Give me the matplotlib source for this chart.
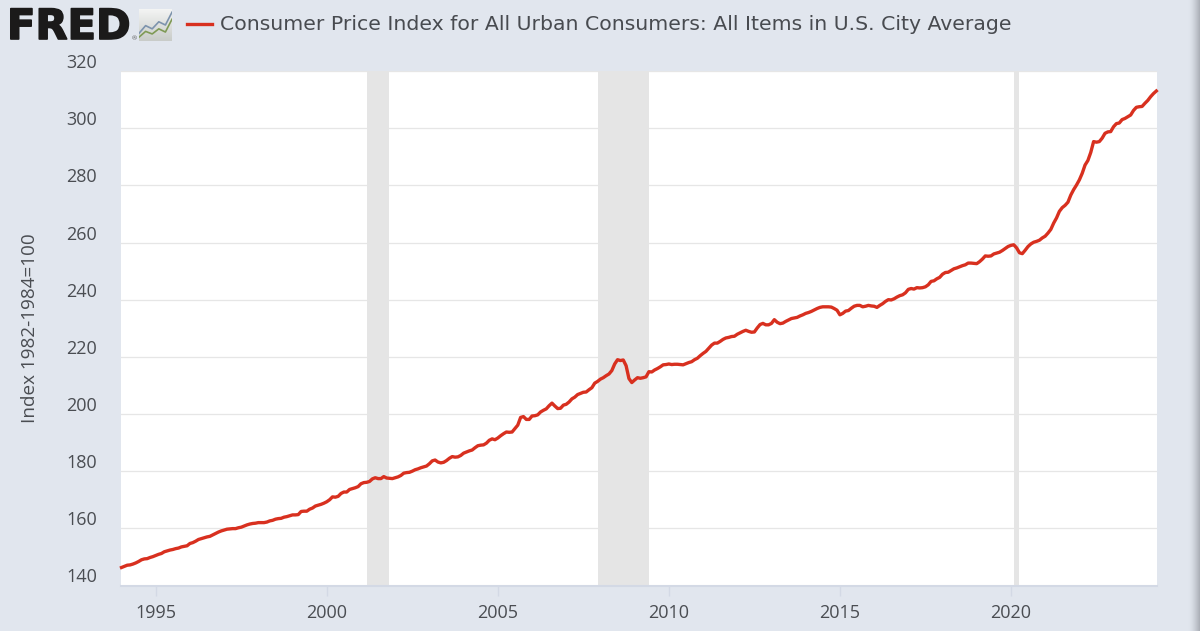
import numpy as np
import matplotlib
matplotlib.use("Agg")
import matplotlib.pyplot as plt
import matplotlib.patheffects as pe
from matplotlib.transforms import ScaledTranslation

TITLE = "Consumer Price Index for All Urban Consumers: All Items in U.S. City Average"
YLABEL = "Index 1982-1984=100"
START_YEAR = 1994
cpi_1994 = [146.3,146.7,147.1,147.2,147.5,147.9,148.4,149.0,149.3,149.4,149.8,150.1]
cpi_1995 = [150.5,150.9,151.2,151.8,152.1,152.4,152.6,152.9,153.1,153.5,153.7,153.9]
cpi_1996 = [154.7,155.0,155.5,156.1,156.4,156.7,157.0,157.2,157.7,158.2,158.7,159.1]
cpi_1997 = [159.4,159.7,159.8,159.9,159.9,160.2,160.4,160.8,161.2,161.5,161.7,161.8]
cpi_1998 = [162.0,162.0,162.0,162.2,162.6,162.8,163.2,163.4,163.5,163.9,164.1,164.4]
cpi_1999 = [164.7,164.7,164.8,165.9,166.0,166.0,166.7,167.1,167.8,168.1,168.4,168.8]
cpi_2000 = [169.3,170.0,171.0,170.9,171.2,172.2,172.7,172.7,173.6,173.9,174.2,174.6]
cpi_2001 = [175.6,176.0,176.1,176.4,177.3,177.7,177.4,177.4,178.1,177.6,177.5,177.4]
cpi_2002 = [177.7,178.0,178.5,179.3,179.5,179.6,180.0,180.5,180.8,181.2,181.5,181.8]
cpi_2003 = [182.6,183.6,183.9,183.2,182.9,183.1,183.7,184.5,185.1,184.9,185.0,185.5]
cpi_2004 = [186.3,186.7,187.1,187.4,188.2,188.9,189.1,189.2,189.8,190.8,191.3,191.0]
cpi_2005 = [191.6,192.4,193.1,193.7,193.6,193.7,194.9,196.1,198.8,199.1,198.1,198.1]
cpi_2006 = [199.3,199.4,199.7,200.7,201.3,201.8,202.9,203.8,202.8,201.9,202.0,203.1]
cpi_2007 = [203.4,204.2,205.3,205.9,206.8,207.2,207.6,207.7,208.5,209.2,210.8,211.4]
cpi_2008 = [212.2,212.7,213.4,214.0,215.2,217.5,219.0,218.7,218.9,216.9,212.4,211.0]
cpi_2009 = [211.9,212.7,212.5,212.7,213.0,214.8,214.7,215.4,215.9,216.5,217.2,217.3]
cpi_2010 = [217.5,217.3,217.4,217.4,217.3,217.2,217.6,218.0,218.3,219.0,219.5,220.4]
cpi_2011 = [221.2,221.9,223.0,224.1,224.8,224.8,225.4,226.1,226.6,226.8,227.1,227.2]
cpi_2012 = [227.9,228.4,228.9,229.3,228.9,228.6,228.7,230.1,231.3,231.7,231.2,231.2]
cpi_2013 = [231.7,233.0,232.1,231.6,231.8,232.4,232.9,233.4,233.6,233.8,234.3,234.7]
cpi_2014 = [235.2,235.5,235.9,236.4,236.9,237.3,237.5,237.5,237.5,237.4,236.9,236.3]
cpi_2015 = [234.7,235.2,236.0,236.2,237.0,237.7,238.0,238.0,237.5,237.7,238.0,237.8]
cpi_2016 = [237.7,237.3,238.0,238.6,239.4,240.0,239.9,240.3,240.9,241.4,241.7,242.4]
cpi_2017 = [243.6,243.9,243.7,244.2,244.1,244.2,244.5,245.2,246.4,246.6,247.3,247.8]
cpi_2018 = [248.9,249.5,249.6,250.2,250.8,251.1,251.5,251.9,252.2,252.8,252.8,252.7]
cpi_2019 = [252.6,253.3,254.2,255.3,255.2,255.3,256.0,256.3,256.6,257.2,257.9,258.6]
cpi_2020 = [259.0,259.2,258.1,256.4,256.1,257.3,258.6,259.5,260.1,260.4,260.8,261.6]
cpi_2021 = [262.2,263.3,264.6,266.8,268.6,270.9,272.2,273.0,274.1,276.6,278.5,280.1]
cpi_2022 = [281.9,284.2,287.1,288.7,291.5,295.3,295.1,295.3,296.5,298.2,298.7,298.8]
cpi_2023 = [300.5,301.6,301.8,303.0,303.4,304.0,304.6,306.2,307.3,307.5,307.6,308.7]
cpi_2024 = [309.7,311.0,312.1,313.0]
recession_start = [2001.17, 2007.92, 2020.08]
recession_end = [2001.83, 2009.42, 2020.25]
y_ticks = [140,160,180,200,220,240,260,280,300,320]
x_ticks = [1995,2000,2005,2010,2015,2020]
icon_blue = [1.2,2.4,1.9,3.0,2.5,4.5]
icon_green = [0.6,1.5,1.1,1.9,1.4,3.4]

values = (cpi_1994+cpi_1995+cpi_1996+cpi_1997+cpi_1998+cpi_1999+cpi_2000+cpi_2001+cpi_2002+cpi_2003
          +cpi_2004+cpi_2005+cpi_2006+cpi_2007+cpi_2008+cpi_2009+cpi_2010+cpi_2011+cpi_2012+cpi_2013
          +cpi_2014+cpi_2015+cpi_2016+cpi_2017+cpi_2018+cpi_2019+cpi_2020+cpi_2021+cpi_2022+cpi_2023+cpi_2024)
dates = START_YEAR + np.arange(len(values))/12

W, H = 1200, 631
BG, RED, TXT = "#e1e6ee", "#d8301f", "#4a4d52"
plt.rcParams["font.family"] = ["Open Sans", "DejaVu Sans"]
fig = plt.figure(figsize=(W/100, H/100), dpi=100, facecolor=BG)
def box(l, t, r, b):
    return [l/W, 1-b/H, (r-l)/W, (b-t)/H]

sh = fig.add_axes(box(1188, 0, 1200, H), zorder=0)
sh.imshow(np.linspace(0, 1, 64)[None, :]**1.6, aspect="auto",
          cmap=matplotlib.colors.LinearSegmentedColormap.from_list("s", [BG, "#a9adb5"]))
sh.axis("off")

ax = fig.add_axes(box(120.5, 71, 1157, 585.5), zorder=1)
ax.set_facecolor("white")
for s, e in zip(recession_start, recession_end):
    ax.axvspan(s, e, color="#e5e5e5", lw=0, zorder=1.5)
ax.plot(dates, values, color=RED, lw=2.4, zorder=3, solid_joinstyle="round", clip_on=False)
ax.set_xlim(1993.97, 2024.27)
ax.set_ylim(140, 320)
ax.set_yticks(y_ticks)
ax.set_xticks(x_ticks)
ax.grid(axis="y", color="#e6e6e6", lw=0.9, zorder=1)
ax.set_axisbelow(True)
for s in ["top", "left", "right"]:
    ax.spines[s].set_visible(False)
ax.spines["bottom"].set_color("#d3d9e5")
ax.spines["bottom"].set_linewidth(1.5)
ax.tick_params(axis="y", length=0, pad=17, labelsize=13, labelcolor=TXT)
ax.tick_params(axis="x", length=7.5, width=1, color="#d3d9e5", pad=6, labelsize=13, labelcolor=TXT)
off = ScaledTranslation(0, 10/100, fig.dpi_scale_trans)
for lab in ax.get_yticklabels():
    lab.set_transform(lab.get_transform()+off)
fig.text(30/W, 1-328/H, YLABEL, rotation=90, ha="center", va="center", fontsize=13.6, color=TXT)

fig.add_artist(plt.Line2D([187/W, 212/W], [1-23.5/H]*2, color=RED, lw=2.4))
fig.text(220/W, 1-25/H, TITLE, ha="left", va="center", fontsize=14.7, color="#484b50", family=["DejaVu Sans"])

fig.text(7/W, 1-27/H, "FRED", ha="left", va="center", fontsize=30, fontweight="bold", color="#1b1a1a",
         family=["DejaVu Sans"], path_effects=[pe.withStroke(linewidth=1.2, foreground="#1b1a1a")])
fig.text(134/W, 1-39/H, "®", ha="center", va="center", fontsize=4.5, color="#555555")
ic = fig.add_axes(box(139, 9, 172, 41), zorder=2)
ic.axis("off")
ic.set_xlim(0, 5); ic.set_ylim(0, 5)
ic.imshow(np.linspace(0, 1, 32)[:, None], extent=(0, 5, 0, 5), aspect="auto",
          cmap=matplotlib.colors.LinearSegmentedColormap.from_list("g", ["#f3f4f3", "#c9ccc9"]))
ic.plot(np.arange(6), icon_blue, color="#7d93ad", lw=1.2)
ic.plot(np.arange(6), icon_green, color="#7f9a55", lw=1.2)

fig.savefig("out.png", dpi=100, facecolor=BG)
